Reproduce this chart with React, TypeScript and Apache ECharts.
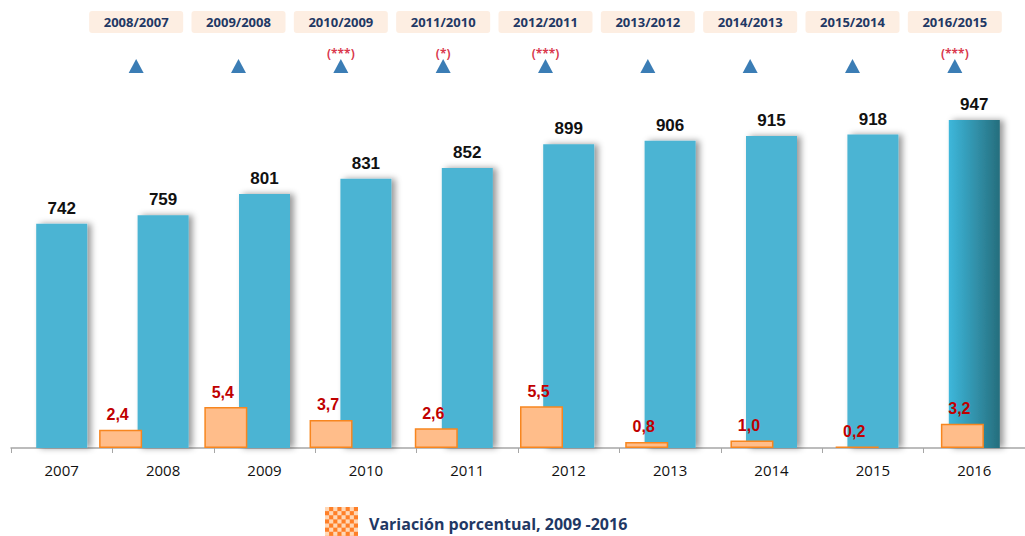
import React, { useEffect, useRef } from "react";
import * as echarts from "echarts";

const years = ["2007", "2008", "2009", "2010", "2011", "2012", "2013", "2014", "2015", "2016"];
const totals = [742, 759, 801, 831, 852, 899, 906, 915, 918, 947];
const periods = ["2008/2007", "2009/2008", "2010/2009", "2011/2010", "2012/2011", "2013/2012", "2014/2013", "2015/2014", "2016/2015"];
const variation = [2.4, 5.4, 3.7, 2.6, 5.5, 0.8, 1.0, 0.2, 3.2];
const direction = ["up", "up", "up", "up", "up", "up", "up", "up", "up"];
const significance = ["", "", "(***)", "(*)", "(***)", "", "", "", "(***)"];
const legendName = "Variación porcentual, 2009 -2016";

const NARROW = "'Liberation Sans Narrow', 'Liberation Sans', Arial, sans-serif";

function checkerIcon(): string {
  let rects = "";
  const n = 8;
  const s = 33 / n;
  for (let i = 0; i < n; i++) {
    for (let j = 0; j < n; j++) {
      if ((i + j) % 2 === 0) {
        rects += `<rect x="${(i * s).toFixed(2)}" y="${(j * s).toFixed(2)}" width="${s.toFixed(2)}" height="${s.toFixed(2)}" fill="#FFD7B5"/>`;
      }
    }
  }
  const svg = `<svg xmlns="http://www.w3.org/2000/svg" width="33" height="33" viewBox="0 0 33 33"><rect width="33" height="33" fill="#FF7F27"/>${rects}</svg>`;
  return "image://data:image/svg+xml;utf8," + encodeURIComponent(svg);
}

export default function App() {
  const ref = useRef<HTMLDivElement>(null);
  useEffect(() => {
    if (!ref.current) return;
    const chart = echarts.init(ref.current, null, { renderer: "svg" });
    const lastIdx = totals.length - 1;
    chart.setOption({
      animation: false,
      backgroundColor: "#ffffff",
      grid: [
        { left: 11, width: 1025, top: 93, bottom: 88 },
        { left: 68, width: 947, top: 93, bottom: 88 },
        { left: 85, width: 921, top: 40, height: 40 },
      ],
      legend: {
        data: [{ name: legendName, icon: checkerIcon() }],
        left: 325,
        top: 507,
        padding: 0,
        itemWidth: 33,
        itemHeight: 33,
        selectedMode: false,
        textStyle: {
          color: "#1F3864",
          fontFamily: "'Open Sans', sans-serif",
          fontWeight: "bold",
          fontSize: 16,
          lineHeight: 16,
          padding: [0, 0, 0, 6],
        },
      },
      xAxis: [
        {
          gridIndex: 0,
          type: "category",
          data: years,
          axisLine: { lineStyle: { color: "#A6A6A6", width: 1.5 } },
          axisTick: { show: true, length: 5, lineStyle: { color: "#A6A6A6" } },
          axisLabel: {
            color: "#111",
            fontFamily: "'Open Sans', sans-serif",
            fontSize: 15,
            margin: 14,
          },
        },
        {
          gridIndex: 1,
          type: "category",
          data: periods,
          show: false,
        },
        {
          gridIndex: 2,
          type: "category",
          data: periods,
          position: "top",
          axisLine: { show: false },
          axisTick: { show: false },
          axisLabel: {
            margin: 7,
            color: "#1F3864",
            fontFamily: "'Open Sans', sans-serif",
            fontWeight: "bold",
            fontSize: 13,
            lineHeight: 14,
            width: 94,
            align: "center",
            backgroundColor: "#FDEEE2",
            borderRadius: 3,
            padding: [4, 0],
          },
        },
      ],
      yAxis: [
        { gridIndex: 0, type: "value", min: 300, max: 1000, show: false },
        { gridIndex: 1, type: "value", min: 0, max: 46.8, show: false },
        { gridIndex: 2, type: "value", min: 0, max: 1, show: false },
      ],
      series: [
        {
          type: "bar",
          name: "Total",
          xAxisIndex: 0,
          yAxisIndex: 0,
          barWidth: 51,
          z: 2,
          data: totals.map((v, i) => ({
            value: v,
            itemStyle:
              i === lastIdx
                ? {
                    color: new echarts.graphic.LinearGradient(0, 0, 1, 0, [
                      { offset: 0, color: "#3DB7DB" },
                      { offset: 1, color: "#266E7D" },
                    ]),
                  }
                : undefined,
          })),
          itemStyle: {
            color: "#4BB4D3",
            shadowColor: "rgba(0,0,0,0.4)",
            shadowBlur: 6,
            shadowOffsetX: 4,
          },
          label: {
            show: true,
            position: "top",
            distance: 7,
            color: "#111",
            fontFamily: NARROW,
            fontWeight: "bold",
            fontSize: 17,
          },
        },
        {
          type: "bar",
          name: legendName,
          xAxisIndex: 1,
          yAxisIndex: 1,
          barWidth: 43,
          z: 3,
          data: variation,
          itemStyle: {
            color: "#FFBD8A",
            borderColor: "#F7861F",
            borderWidth: 1.5,
          },
          label: {
            show: true,
            position: "top",
            distance: 7,
            offset: [-3, 0],
            color: "#C00000",
            fontFamily: NARROW,
            fontWeight: "bold",
            fontSize: 16,
            formatter: (p: any) => Number(p.value).toFixed(1).replace(".", ","),
          },
        },
        {
          type: "scatter",
          name: "Dirección",
          xAxisIndex: 2,
          yAxisIndex: 2,
          symbol: "triangle",
          symbolSize: [15, 14],
          itemStyle: { color: "#0A5DA3" },
          data: direction.map((d, i) => ({
            value: [periods[i], d === "up" ? 0.35 : 0.35],
            label: { formatter: significance[i] || "" },
          })),
          label: {
            show: true,
            position: "top",
            distance: 0,
            color: "#D0021B",
            fontFamily: "'Open Sans', sans-serif",
            fontWeight: "bold",
            fontSize: 12,
          },
        },
      ],
    });
    return () => chart.dispose();
  }, []);
  return (
    <div
      ref={ref}
      style={{ position: "absolute", left: 0, top: 0, width: 1025, height: 536 }}
    />
  );
}
